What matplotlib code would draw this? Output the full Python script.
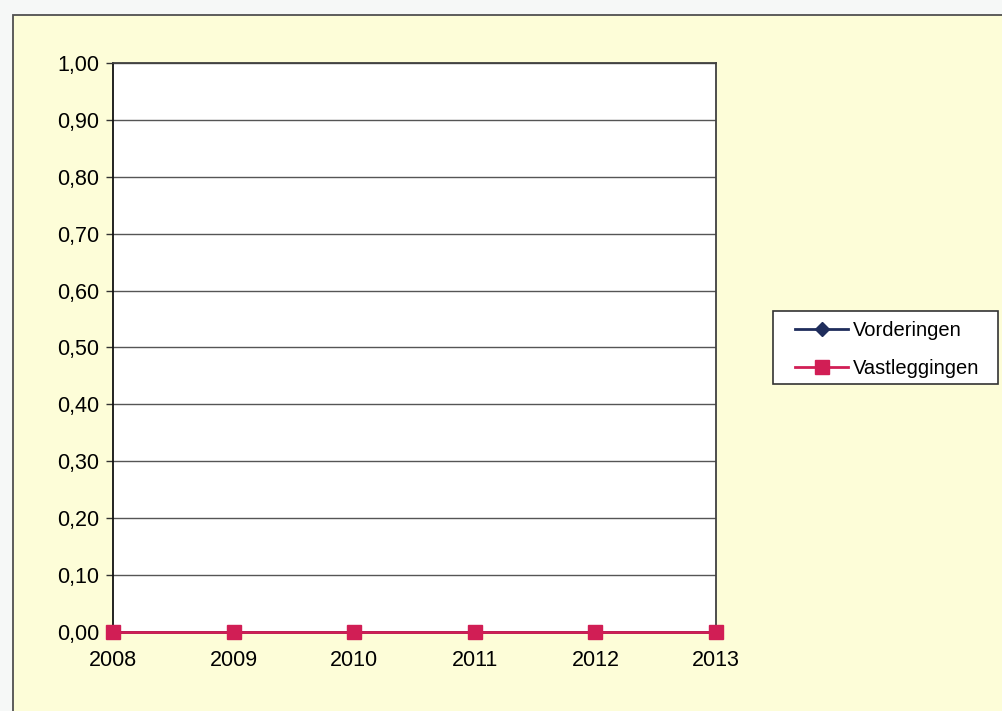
import matplotlib
matplotlib.use("Agg")
import matplotlib.pyplot as plt
from matplotlib.patches import Rectangle

years = ["2008", "2009", "2010", "2011", "2012", "2013"]
vorderingen = [0, 0, 0, 0, 0, 0]
vastleggingen = [0, 0, 0, 0, 0, 0]
yticks = [0.0, 0.1, 0.2, 0.3, 0.4, 0.5, 0.6, 0.7, 0.8, 0.9, 1.0]

plt.rcParams['font.family'] = ['Liberation Sans', 'DejaVu Sans']

fig = plt.figure(figsize=(10.03, 7.11), dpi=100)
fig.patch.set_facecolor('#F6F8F7')

# chart area (yellow box with border)
W, H = 1003, 711
fig.patches.append(Rectangle((13 / W, -0.01), 1.0, (H - 15) / H + 0.01,
                             transform=fig.transFigure, facecolor='#FDFDD8',
                             edgecolor='#505050', linewidth=1.3, zorder=-5))

ax = fig.add_axes([113 / W, 1 - 632 / H, 603 / W, 569 / H])
ax.set_facecolor('white')

x = list(range(len(years)))
ax.plot(x, vorderingen, color='#1F2D5C', marker='D', markersize=7,
        linewidth=2, label='Vorderingen', clip_on=False, zorder=3)
ax.plot(x, vastleggingen, color='#D11E55', marker='s', markersize=10,
        linewidth=2, label='Vastleggingen', clip_on=False, zorder=4)

ax.set_xlim(0, 5)
ax.set_ylim(0, 1)
ax.set_yticks(yticks)
ax.set_yticklabels([f"{v:.2f}".replace('.', ',') for v in yticks], fontsize=15.5)
ax.set_xticks(x)
ax.set_xticklabels(years, fontsize=15.5)
ax.tick_params(axis='x', length=0, pad=13)
ax.tick_params(axis='y', length=5, width=1, color='#333333', pad=5)
ax.grid(axis='y', color='#555555', linewidth=1)
ax.set_axisbelow(True)
for s in ax.spines.values():
    s.set_color('#404040')
    s.set_linewidth(1.3)
ax.spines['left'].set_color('#111111')

# legend box drawn separately so the padding can match
fig.patches.append(Rectangle((773 / W, 1 - 384 / H), 225 / W, 73 / H,
                             transform=fig.transFigure, facecolor='white',
                             edgecolor='#333333', linewidth=1.2, zorder=-1))
leg = fig.legend(loc='upper left', bbox_to_anchor=(795 / W, 1 - 321 / H),
                 fontsize=14.5, frameon=False, handlelength=2.64,
                 borderpad=0, labelspacing=0.95, handletextpad=0.25,
                 borderaxespad=0)

fig.savefig('out.png', dpi=100, facecolor=fig.get_facecolor())
